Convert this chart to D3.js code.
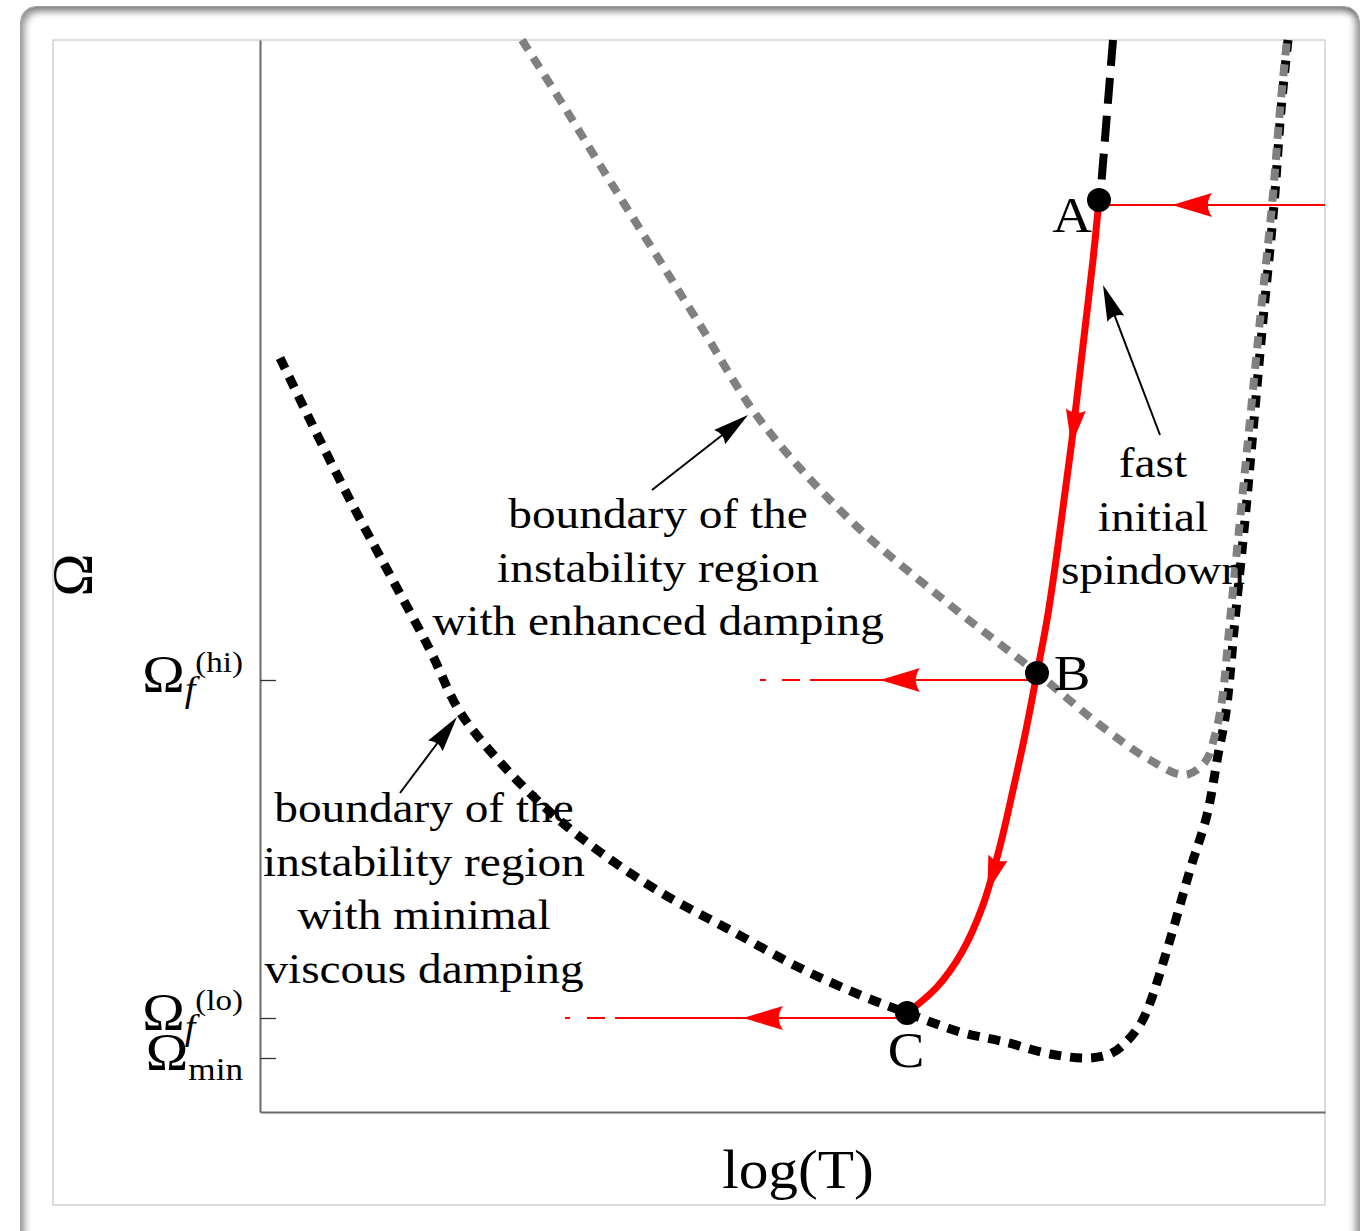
<!DOCTYPE html>
<html><head><meta charset="utf-8">
<script src="https://cdn.jsdelivr.net/npm/d3@7/dist/d3.min.js"></script>
<style>
html,body{margin:0;padding:0;background:#fff;width:1367px;height:1231px;overflow:hidden;}
#frame{position:absolute;left:20px;top:6px;width:1340px;height:1260px;border-radius:16px;border:1px solid #a0a0a0;box-sizing:border-box;
 box-shadow: inset 4px 5px 7px rgba(0,0,0,0.38), inset -4px 0 7px rgba(0,0,0,0.38);}
svg{position:absolute;left:0;top:0;}
</style></head><body>
<div id="frame"></div>
<svg id="chart" width="1367" height="1231"></svg>
<script>
// ---------- data (schematic units: x = log T, y = Omega) ----------
const minimalDampingBoundary = [
 [0.20,7.54],[0.50,6.92],[0.90,6.12],[1.30,5.37],[1.70,4.62],[2.00,4.00],[2.40,3.50],
 [2.90,3.00],[3.40,2.60],[4.00,2.20],[4.70,1.82],[5.40,1.44],[6.00,1.17],[6.47,0.99],
 [7.00,0.80],[7.45,0.70],[7.90,0.58],[8.30,0.54],[8.52,0.59],[8.68,0.72],[8.81,0.89],
 [8.90,1.09],[9.10,1.72],[9.30,2.42],[9.47,2.97],[9.58,3.57],[9.66,4.00],[9.75,4.92],
 [9.85,5.92],[9.94,6.92],[10.03,7.92],[10.14,9.07],[10.21,10.02],[10.28,10.72]
];
const enhancedDampingBoundary = [
 [2.62,10.72],[3.00,10.12],[3.40,9.47],[3.90,8.67],[4.40,7.87],[5.00,6.92],[5.90,5.92],
 [6.90,5.07],[7.77,4.39],[8.40,3.87],[8.90,3.52],[9.25,3.37],[9.45,3.50],[9.55,3.77],
 [9.62,4.12],[9.70,4.92],[9.80,5.92],[9.90,6.92],[10.00,7.92],[10.12,9.07],[10.20,10.02],[10.27,10.72]
];
const earlySegment = [[8.53,10.72],[8.40,9.12]];
const spindownTrack = [
 [8.39,9.12],[8.33,8.52],[8.26,7.92],[8.19,7.32],[8.12,6.72],[8.04,6.12],[7.96,5.52],
 [7.87,4.92],[7.77,4.39],[7.66,3.82],[7.53,3.22],[7.39,2.62],[7.23,2.07],[7.02,1.60],
 [6.77,1.25],[6.47,0.99]
];
const spindownArrowOmega = [6.67, 2.20];
const stateNames = ["A","B","C"];
const stateX = [8.39, 7.77, 6.47];
const stateY = [9.12, 4.39, 0.99];
// horizontal evolution tracks: y, start x, end x of solid part, arrow tip x, dash pieces
const trackY      = [9.07, 4.32, 0.94];
const trackStart  = [8.39, 7.77, 6.47];
const trackEnd    = [10.65, 5.50, 3.55];
const trackArrowX = [9.12, 6.20, 4.83];
const trackDashes = [[], [[5.22,5.40],[5.00,5.06]], [[3.27,3.45],[3.05,3.10]]];
const yTickValues = [4.32, 0.94, 0.54];
const yTickMain = ["Ω","Ω","Ω"];
const yTickSub  = ["f","f","min"];
const yTickSup  = ["(hi)","(lo)",""];
const xAxisLabel = "log(T)";
const yAxisLabel = "Ω";
// annotation pointers: [from, to]
const pointerFrom = [[9.00,6.77],[3.92,6.22],[1.40,3.19]];
const pointerTo   = [[8.43,8.27],[4.88,6.97],[1.97,3.95]];
const noteLines = [
 ["fast","initial","spindown"],
 ["boundary of the","instability region","with enhanced damping"],
 ["boundary of the","instability region","with minimal","viscous damping"]
];
const noteAnchor = [[8.93,6.35],[3.98,5.84],[1.64,2.90]];

// ---------- drawing ----------
const svg = d3.select("#chart");
const FONT = "'Liberation Serif','Times New Roman',serif";
const SX = 1.1;
const x = d3.scaleLinear().domain([0,10.65]).range([260,1325]);
const y = d3.scaleLinear().domain([0,10.72]).range([1112,40]);

// inner frame
svg.append("rect").attr("x",53).attr("y",40).attr("width",1272).attr("height",1165)
  .attr("fill","none").attr("stroke","#d2d2d2").attr("stroke-width",1.5);

// axes
const yAxis = d3.axisLeft(y).tickValues(yTickValues).tickSizeInner(-16).tickSizeOuter(0).tickFormat("");
const gy = svg.append("g").attr("transform",`translate(${x(0)},0)`).call(yAxis);
gy.select(".domain").attr("stroke","#6a6a6a").attr("stroke-width",2);
gy.selectAll(".tick line").attr("stroke","#333").attr("stroke-width",1.3);
const xAxis = d3.axisBottom(x).tickValues([]).tickSizeOuter(0);
const gx = svg.append("g").attr("transform",`translate(0,${y(0)})`).call(xAxis);
gx.select(".domain").attr("stroke","#6a6a6a").attr("stroke-width",2);

function stext(g, px, py, size, anchor){
  return g.append("text").attr("transform",`translate(${px},${py}) scale(${SX},1)`)
    .attr("text-anchor",anchor).attr("font-family",FONT).attr("font-size",size).attr("fill","#000");
}

// tick labels
yTickValues.forEach((v,i)=>{
  const t = stext(svg, x(0)-17, y(v)+12, 52, "end");
  t.append("tspan").text(yTickMain[i]);
  const isItalic = yTickSub[i]==="f";
  t.append("tspan").attr("dy", isItalic?9:10).attr("font-size", isItalic?35:32)
    .attr("font-style", isItalic?"italic":"normal").text(yTickSub[i]);
  if (yTickSup[i]) t.append("tspan").attr("dy",-29).attr("font-size",30).text(yTickSup[i]);
});

// axis labels
stext(svg, 798, 1188, 54, "middle").text(xAxisLabel);
svg.append("text").attr("transform","translate(72,575) rotate(-90)").attr("text-anchor","middle")
  .attr("dominant-baseline","central").attr("font-family",FONT).attr("font-size",58).text(yAxisLabel);

const line = d3.line().x(d=>x(d[0])).y(d=>y(d[1])).curve(d3.curveCatmullRom.alpha(0.5));

// boundaries
svg.append("path").datum(minimalDampingBoundary).attr("d",line).attr("fill","none")
  .attr("stroke","#000").attr("stroke-width",9).attr("stroke-dasharray","12,9");
svg.append("path").datum(earlySegment).attr("d",line).attr("fill","none")
  .attr("stroke","#000").attr("stroke-width",8).attr("stroke-dasharray","26,12");
svg.append("path").datum(enhancedDampingBoundary).attr("d",line).attr("fill","none")
  .attr("stroke","#808080").attr("stroke-width",8).attr("stroke-dasharray","12,9");

function arrowHead(g, tx, ty, ang, len, hw, notch, color){
  g.append("path").attr("transform",`translate(${tx},${ty}) rotate(${ang})`)
    .attr("d",`M0,0 L${-len},${-hw} Q${-len+notch*0.6},0 ${-len},${hw} Z`)
    .attr("fill",color).attr("stroke","none");
}

// horizontal tracks
trackY.forEach((v,i)=>{
  svg.append("line").attr("x1",x(trackStart[i])).attr("x2",x(trackEnd[i]))
    .attr("y1",y(v)).attr("y2",y(v)).attr("stroke","#ff0000").attr("stroke-width",2);
  trackDashes[i].forEach(d=>{
    svg.append("line").attr("x1",x(d[0])).attr("x2",x(d[1])).attr("y1",y(v)).attr("y2",y(v))
      .attr("stroke","#ff0000").attr("stroke-width",2);
  });
  arrowHead(svg, x(trackArrowX[i]), y(v), 180, 40, 12, 14, "#ff0000");
});

// spindown track
const sp = svg.append("path").datum(spindownTrack).attr("d",line).attr("fill","none")
  .attr("stroke","#ff0000").attr("stroke-width",7).attr("stroke-linecap","round");
const node = sp.node(); const L = node.getTotalLength();
spindownArrowOmega.forEach(om=>{
  const target = y(om);
  let l = 0;
  for (; l<L; l+=1){ if (node.getPointAtLength(l).y >= target) break; }
  const p = node.getPointAtLength(l), q = node.getPointAtLength(Math.max(0,l-6));
  const ang = Math.atan2(p.y-q.y, p.x-q.x)*180/Math.PI;
  arrowHead(svg, p.x, p.y, ang, 36, 10, 10, "#ff0000");
});

// pointers
pointerFrom.forEach((f,i)=>{
  const t = pointerTo[i];
  const x1=x(f[0]), y1=y(f[1]), x2=x(t[0]), y2=y(t[1]);
  const ang = Math.atan2(y2-y1, x2-x1);
  svg.append("line").attr("x1",x1).attr("y1",y1).attr("x2",x2-Math.cos(ang)*20).attr("y2",y2-Math.sin(ang)*20)
    .attr("stroke","#000").attr("stroke-width",2);
  arrowHead(svg, x2, y2, ang*180/Math.PI, 36, 9, 10, "#000");
});

// notes
noteLines.forEach((lines,i)=>{
  lines.forEach((s,j)=>{
    stext(svg, x(noteAnchor[i][0]), y(noteAnchor[i][1]) + j*53.5, 43, "middle").text(s);
  });
});

// state points
const labelOffset = [[-27,32],[35,17],[-1,54]];
stateNames.forEach((n,i)=>{
  svg.append("circle").attr("cx",x(stateX[i])).attr("cy",y(stateY[i])).attr("r",12).attr("fill","#000");
  stext(svg, x(stateX[i])+labelOffset[i][0], y(stateY[i])+labelOffset[i][1], 50, "middle").text(n);
});
</script>
</body></html>
